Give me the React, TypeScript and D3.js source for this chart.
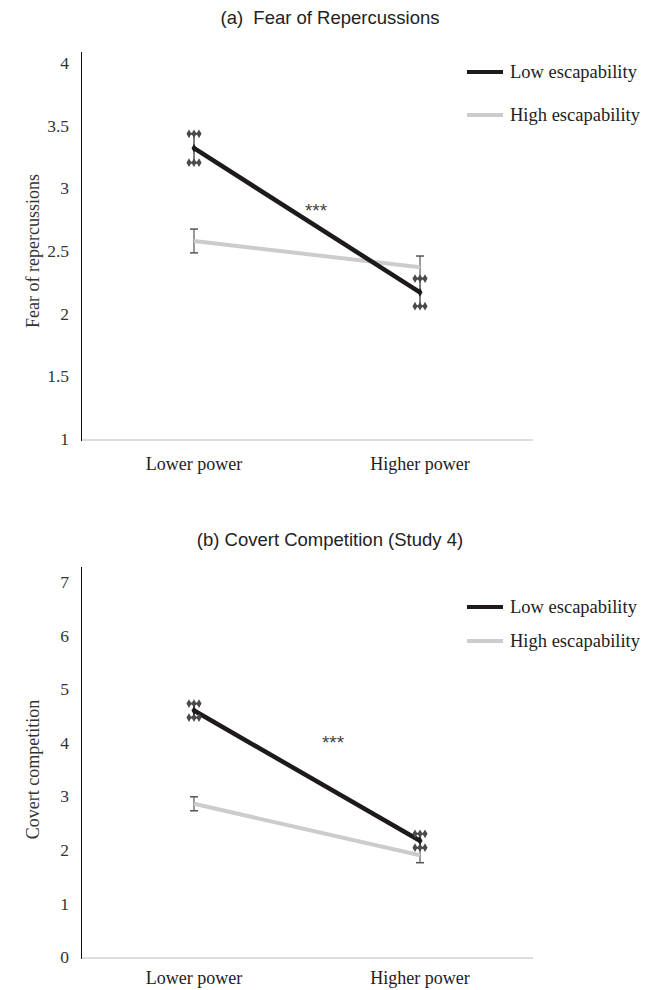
import { useEffect, useRef } from "react";
import * as d3 from "d3";

const CATEGORIES = ["Lower power", "Higher power"];
const SERIES_NAMES = ["Low escapability", "High escapability"];

// panel (a) Fear of repercussions
const FEAR_LOW = [3.32, 2.17];
const FEAR_LOW_ERR = [0.115, 0.11];
const FEAR_HIGH = [2.58, 2.37];
const FEAR_HIGH_ERR = [0.095, 0.09];
const FEAR_TICKS = [1, 1.5, 2, 2.5, 3, 3.5, 4];

// panel (b) Covert competition
const COVERT_LOW = [4.6, 2.17];
const COVERT_LOW_ERR = [0.13, 0.13];
const COVERT_HIGH = [2.86, 1.9];
const COVERT_HIGH_ERR = [0.13, 0.14];
const COVERT_TICKS = [0, 1, 2, 3, 4, 5, 6, 7];

const SERIF = "'Liberation Serif', 'Times New Roman', serif";
const SANS = "'Liberation Sans', Arial, sans-serif";
const LOW_COLOR = "#1e1a1a";
const HIGH_COLOR = "#cccccc";

type Panel = {
  title: string;
  yLabel: string;
  domain: [number, number];
  ticks: number[];
  low: number[];
  lowErr: number[];
  high: number[];
  highErr: number[];
  top: number; // y of top value
  bottom: number; // y of baseline
  axisTop: number;
  titleY: number;
  labelDy: number;
  legendY: [number, number];
  star: { t: number; v: number };
};

const PANELS: Panel[] = [
  {
    title: "(a)\u00a0\u00a0Fear of Repercussions",
    yLabel: "Fear of repercussions",
    domain: [1, 4],
    ticks: FEAR_TICKS,
    low: FEAR_LOW, lowErr: FEAR_LOW_ERR,
    high: FEAR_HIGH, highErr: FEAR_HIGH_ERR,
    top: 63, bottom: 439, axisTop: 52, titleY: 24, labelDy: 31,
    legendY: [72, 115],
    star: { t: 0.54, v: 2.87 },
  },
  {
    title: "(b) Covert Competition (Study 4)",
    yLabel: "Covert competition",
    domain: [0, 7],
    ticks: COVERT_TICKS,
    low: COVERT_LOW, lowErr: COVERT_LOW_ERR,
    high: COVERT_HIGH, highErr: COVERT_HIGH_ERR,
    top: 582, bottom: 957, axisTop: 567, titleY: 546, labelDy: 27,
    legendY: [607, 641],
    star: { t: 0.615, v: 4.1 },
  },
];

export default function App() {
  const svgRef = useRef<SVGSVGElement | null>(null);

  useEffect(() => {
    if (!svgRef.current) return;
    const svg = d3.select(svgRef.current);
    svg.selectAll("*").remove();

    const x = d3.scalePoint<string>().domain(CATEGORIES).range([81, 533]).padding(0.5);

    for (const p of PANELS) {
      const y = d3.scaleLinear().domain(p.domain).range([p.bottom, p.top]);
      const g = svg.append("g");

      g.append("text").attr("x", 330).attr("y", p.titleY).attr("text-anchor", "middle")
        .attr("font-family", SANS).attr("font-size", 18.5).attr("fill", "#222").text(p.title);

      // y tick labels
      g.selectAll(".tick").data(p.ticks).enter().append("text")
        .attr("x", 69).attr("y", (d) => y(d)).attr("dy", "0.35em")
        .attr("text-anchor", "end").attr("font-family", SERIF).attr("font-size", 17.5)
        .attr("fill", "#333").text((d) => String(d));

      g.append("text")
        .attr("transform", `translate(35,${(p.top + p.bottom) / 2}) rotate(-90)`)
        .attr("text-anchor", "middle").attr("dominant-baseline", "middle")
        .attr("font-family", SERIF).attr("font-size", 18).attr("fill", "#333").text(p.yLabel);

      // baseline + y axis
      g.append("line").attr("x1", 81).attr("x2", 533).attr("y1", p.bottom + 1).attr("y2", p.bottom + 1)
        .attr("stroke", "#dddddd").attr("stroke-width", 2);
      g.append("line").attr("x1", 81.5).attr("x2", 81.5).attr("y1", p.axisTop).attr("y2", p.bottom + 2)
        .attr("stroke", "#111").attr("stroke-width", 1);

      g.selectAll(".xl").data(CATEGORIES).enter().append("text")
        .attr("x", (d) => x(d)!).attr("y", p.bottom + p.labelDy).attr("text-anchor", "middle")
        .attr("font-family", SERIF).attr("font-size", 18).attr("fill", "#222").text((d) => d);

      const line = d3.line<number>().x((_, i) => x(CATEGORIES[i])!).y((d) => y(d));

      // high escapability: error bars with plain caps
      p.high.forEach((v, i) => {
        const cx = x(CATEGORIES[i])!;
        const e = p.highErr[i];
        g.append("line").attr("x1", cx).attr("x2", cx).attr("y1", y(v - e)).attr("y2", y(v + e))
          .attr("stroke", "#777").attr("stroke-width", 1.5);
        for (const yy of [y(v - e), y(v + e)]) {
          g.append("line").attr("x1", cx - 4).attr("x2", cx + 4).attr("y1", yy).attr("y2", yy)
            .attr("stroke", "#555").attr("stroke-width", 1.5);
        }
      });
      g.append("path").datum(p.high).attr("d", line).attr("fill", "none")
        .attr("stroke", HIGH_COLOR).attr("stroke-width", 4);

      g.append("path").datum(p.low).attr("d", line).attr("fill", "none")
        .attr("stroke", LOW_COLOR).attr("stroke-width", 4.5);

      // low escapability: error bars with diamond caps
      const diamond = d3.symbol().type(d3.symbolDiamond).size(22);
      p.low.forEach((v, i) => {
        const cx = x(CATEGORIES[i])!;
        const e = p.lowErr[i];
        g.append("line").attr("x1", cx).attr("x2", cx).attr("y1", y(v - e)).attr("y2", y(v + e))
          .attr("stroke", "#555").attr("stroke-width", 1.5);
        for (const yy of [y(v - e), y(v + e)]) {
          g.append("line").attr("x1", cx - 7).attr("x2", cx + 7).attr("y1", yy).attr("y2", yy)
            .attr("stroke", "#4a4a4a").attr("stroke-width", 2);
          for (const dx of [-5, 0, 5]) {
            g.append("path").attr("d", diamond).attr("transform", `translate(${cx + dx},${yy})`)
              .attr("fill", "#4a4a4a");
          }
        }
        g.append("path").attr("d", diamond).attr("transform", `translate(${cx},${y(v)})`)
          .attr("fill", LOW_COLOR);
      });

      // significance
      const x0 = x(CATEGORIES[0])!, x1 = x(CATEGORIES[1])!;
      g.append("text").attr("x", x0 + (x1 - x0) * p.star.t).attr("y", y(p.star.v) + 12)
        .attr("text-anchor", "middle").attr("font-family", SANS).attr("font-size", 19)
        .attr("fill", "#444").text("***");

      // legend
      SERIES_NAMES.forEach((name, i) => {
        const ly = p.legendY[i];
        g.append("line").attr("x1", 467).attr("x2", 503).attr("y1", ly).attr("y2", ly)
          .attr("stroke", i === 0 ? LOW_COLOR : HIGH_COLOR).attr("stroke-width", 4);
        g.append("text").attr("x", 510).attr("y", ly).attr("dy", "0.35em")
          .attr("font-family", SERIF).attr("font-size", 18.5).attr("fill", "#222").text(name);
      });
    }
  }, []);

  return (
    <svg ref={svgRef} width={658} height={990}
      style={{ position: "absolute", left: 0, top: 0, background: "#fff", display: "block" }} />
  );
}
